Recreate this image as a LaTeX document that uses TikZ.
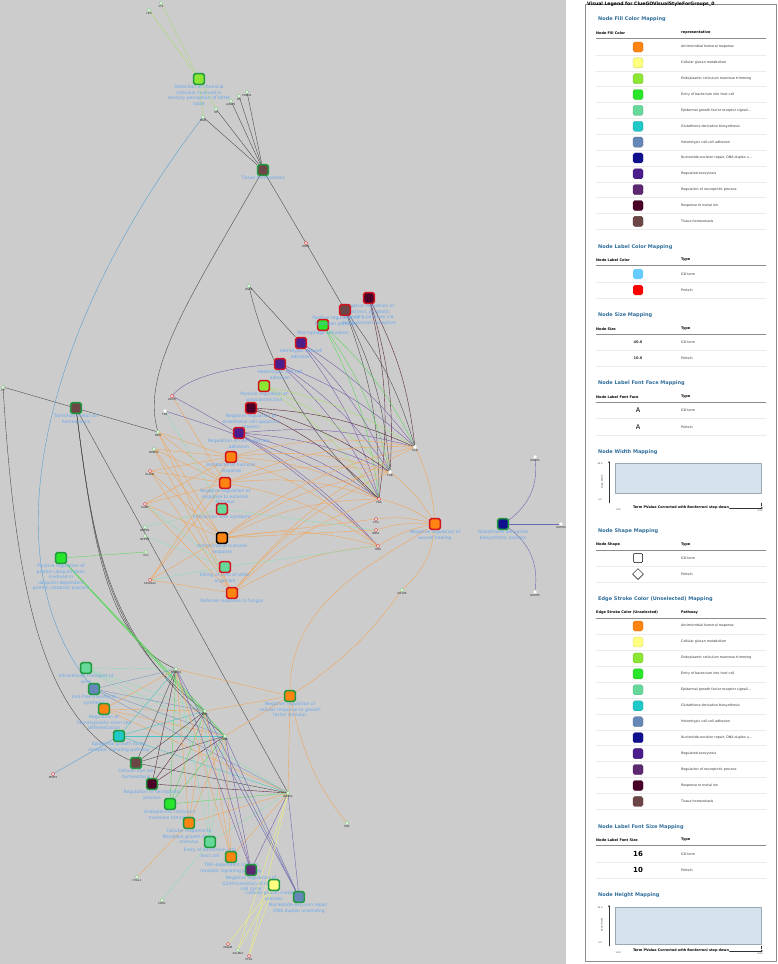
\documentclass[tikz,border=0pt]{standalone}
\usepackage{fontspec}
\setmainfont{DejaVu Sans}
\usetikzlibrary{arrows.meta,shapes.geometric,backgrounds}
% network
\definecolor{netbg}{HTML}{CCCCCC}
\definecolor{golabc}{HTML}{6AA8EC}
\definecolor{bdRed}{HTML}{D2141E}
\definecolor{bdGreen}{HTML}{1F9A3E}
\definecolor{pRed}{HTML}{D92020}
\definecolor{pGreen}{HTML}{6CC96C}
\definecolor{pWhite}{HTML}{F2F2F2}
\definecolor{fcOrange}{HTML}{FF8412}
\definecolor{fcYellow}{HTML}{FFFF80}
\definecolor{fcLime}{HTML}{8CE634}
\definecolor{fcGreen}{HTML}{2AE62A}
\definecolor{fcMint}{HTML}{66D99A}
\definecolor{fcCyan}{HTML}{20C8C8}
\definecolor{fcSteel}{HTML}{6688B8}
\definecolor{fcNavy}{HTML}{10108E}
\definecolor{fcPurple}{HTML}{4A1C8C}
\definecolor{fcPlum}{HTML}{5C2870}
\definecolor{fcMaroon}{HTML}{4A0026}
\definecolor{fcBrown}{HTML}{6C4646}
\definecolor{egOrange}{HTML}{F2A65A}
\definecolor{egGray}{HTML}{4D4D4D}
\definecolor{egPurple}{HTML}{7B5EA7}
\definecolor{egMaroon}{HTML}{5A2A3A}
\definecolor{egLime}{HTML}{A6E06A}
\definecolor{egGreen}{HTML}{5ED65E}
\definecolor{egMint}{HTML}{8FDDB5}
\definecolor{egBlue}{HTML}{5A9FD0}
\definecolor{egCyan}{HTML}{4CC4C4}
\definecolor{egSteel}{HTML}{7F98C0}
\definecolor{egNavy}{HTML}{6A6AB0}
\definecolor{egYellow}{HTML}{F2F27A}
% legend
\definecolor{legHead}{HTML}{2F6D9A}
\definecolor{legText}{HTML}{333333}
\definecolor{legRule}{HTML}{8C8C8C}
\definecolor{legRow}{HTML}{EBEBEB}
\definecolor{labBlue}{HTML}{66CCFF}
\definecolor{chartFill}{HTML}{D6E2EC}
\definecolor{chartEdge}{HTML}{9AA8B4}
\newcommand{\fsz}[2]{\fontsize{#1}{#2}\selectfont}

\begin{document}
\begin{tikzpicture}[x=1pt, y=-1pt, line cap=round, line join=round,
  goterm/.style={rectangle, rounded corners=1.6pt, minimum size=10.6pt,
                 inner sep=0pt, line width=1.5pt},
  golab/.style={text=golabc, font=\fsz{4.5}{5.4}, align=center, inner sep=0.3pt},
  prot/.style={diamond, draw=#1, fill=white, minimum size=3.4pt, inner sep=0pt,
               line width=0.45pt},
  plab/.style={font=\fsz{2.7}{3}, text=black!85, inner sep=0pt},
  ed/.style={line width=0.4pt},
  swatch/.style={rectangle, rounded corners=1.8pt, minimum size=10pt, inner sep=0pt},
  leghead/.style={font=\bfseries\fsz{5}{6}, text=legHead, anchor=west, inner sep=0pt},
  colhead/.style={font=\bfseries\fsz{3.5}{4}, text=black, anchor=west, inner sep=0pt},
  rowtxt/.style={font=\fsz{3.3}{4}, text=legText, anchor=west, inner sep=0pt},
  bigtxt/.style={font=\bfseries\fsz{3.6}{4}, text=legText, inner sep=0pt},
  axtxt/.style={font=\fsz{2.2}{2.5}, text=legText, inner sep=0pt}]

\useasboundingbox (0,0) rectangle (778,964);

% ================================================ GO terms
\foreach \n/\x/\y/\fc/\bc/\lab in {
  detect/199/79/fcLime/bdGreen/{Detection of chemical\\stimulus involved in\\sensory perception of bitter\\taste},
  tissue/263/170/fcBrown/bdGreen/{Tissue homeostasis},
  extap/369/298/fcMaroon/bdRed/{Negative regulation of\\extrinsic apoptotic\\signaling pathway via\\death domain receptors},
  macro/323/325/fcGreen/bdRed/{Macrophage activation},
  homot/301/343/fcPurple/bdRed/{Homotypic cell-cell\\adhesion},
  hetero/280/364/fcPurple/bdRed/{Heterotypic cell-cell\\adhesion},
  vaso/264/386/fcLime/bdRed/{Positive regulation of\\vasoconstriction},
  endoap/251/408/fcMaroon/bdRed/{Negative regulation of\\endothelial cell apoptotic\\process},
  substr/239/433/fcPurple/bdRed/{Regulation of cell-substrate\\adhesion},
  antibac/231/457/fcOrange/bdRed/{Antibacterial humoral\\response},
  extstim/225/483/fcOrange/bdRed/{Negative regulation of\\response to external\\stimulus},
  symb/222/509/fcMint/bdRed/{Interaction with symbiont},
  antimic/222/538/fcOrange/black/{Antimicrobial humoral\\response},
  kill/225/567/fcMint/bdRed/{Killing of cells of other\\organism},
  fungus/232/593/fcOrange/bdRed/{Defense response to fungus},
  wound/435/524/fcOrange/bdRed/{Negative regulation of\\wound healing},
  gluta/503/524/fcNavy/bdGreen/{Glutathione derivative\\biosynthetic process},
  transit/76/408/fcBrown/bdGreen/{Transition metal ion\\homeostasis},
  ubiq/61/558/fcGreen/bdGreen/{Positive regulation of\\protein ubiquitination\\involved in\\ubiquitin-dependent\\protein catabolic process},
  growthf/290/696/fcOrange/bdGreen/{Negative regulation of\\cellular response to growth\\factor stimulus},
  virus/86/668/fcMint/bdGreen/{Intracellular transport of\\virus},
  transf/94/689/fcSteel/bdGreen/{Iron-free transferrin\\synthesis},
  hemat/104/709/fcOrange/bdGreen/{Regulation of\\hematopoietic stem cell\\differentiation},
  egfr/119/736/fcCyan/bdGreen/{Epidermal growth factor\\receptor signaling pathway},
  ironh/136/763/fcBrown/bdGreen/{Cellular iron ion\\homeostasis},
  necro/152/784/fcMaroon/bdGreen/{Regulation of necroptotic\\process},
  ermann/170/804/fcGreen/bdGreen/{Endoplasmic reticulum\\mannose trimming},
  fibro/189/823/fcOrange/bdGreen/{Cellular response to\\fibroblast growth factor\\stimulus},
  entry/210/842/fcMint/bdGreen/{Entry of bacterium into\\host cell},
  trif/231/857/fcOrange/bdGreen/{TRIF-dependent toll-like\\receptor signaling pathway},
  gtwom/251/870/fcPlum/bdGreen/{Negative regulation of\\G2/M transition of mitotic\\cell cycle},
  glucan/274/885/fcYellow/bdGreen/{Cellular glucan metabolic\\process},
  nucex/299/897/fcSteel/bdGreen/{Nucleotide-excision repair,\\DNA duplex unwinding}}
  \node[goterm, fill=\fc, draw=\bc, label={[golab]below:\lab}] (\n) at (\x,\y) {};
% this one sits under the apoptosis label, nudged left
\node[goterm, fill=fcBrown, draw=bdRed,
      label={[golab, xshift=-9pt]below:{Positive regulation of\\hydrogen peroxide}}]
  (hperox) at (345,310) {};

% ================================================ proteins
\foreach \n/\x/\y/\pc/\lab in {
  chi/161/3/pGreen/CHI, lpo/149/10/pGreen/LPO, prdx/247/92/pGreen/PRDX1,
  ltf/239/96/pGreen/LTF, azgp/231/101/pGreen/AZGP1, hp/216/109/pGreen/HP,
  pigr/203/117/pGreen/PIGR, rbp/306/243/pRed/RBP4, dsc/249/286/pGreen/DSC3,
  cp/3/387/pGreen/CP, apoh/172/396/pRed/APOH, fn/165/411/pWhite/FN1,
  btm/158/432/pGreen/B2M, dmbt/154/449/pGreen/DMBT1, elane/150/471/pRed/ELANE,
  camp/145/504/pRed/CAMP, bpifb2/145/527/pGreen/BPIFB2, bpifb1/145/536/pGreen/BPIFB1,
  clu/146/552/pGreen/CLU, s100/150/580/pRed/S100A12,
  fgg/415/447/pWhite/FGG, fgb/390/472/pWhite/FGB, fga/379/499/pRed/FGA,
  plg/376/519/pRed/PLG, rns/376/530/pRed/RNS1, hrg/378/546/pRed/HRG,
  cd109/402/590/pGreen/CD109, gstm1/535/457/pWhite/GSTM1,
  gstm4/561/524/pWhite/GSTM4, gstm5/535/592/pWhite/GSTM5,
  rps/176/669/pGreen/RPS27A, ubc/205/711/pGreen/UBC, ubb/225/736/pGreen/UBB,
  uba/288/793/pGreen/UBA52, mmp/53/774/pRed/MMP9, sox/347/823/pGreen/SOX,
  hyal/137/877/pGreen/HYAL1, cdh/162/900/pGreen/CDH1, mgam/228/944/pRed/MGAM,
  calm/238/950/pGreen/CALML5, pygl/249/956/pRed/PYGL}
  \node[prot=\pc, label={[plab]below:\lab}] (\n) at (\x,\y) {};

% ================================================ edges (under the nodes)
\begin{pgfonlayer}{background}
  \fill[netbg] (0,0) rectangle (566,964);

  % bitter taste / tissue homeostasis
  \draw[ed, draw=egLime] (lpo) -- (detect);
  \draw[ed, draw=egLime] (chi) -- (detect);
  \draw[ed, draw=egLime] (detect) -- (pigr);
  \draw[ed, draw=egLime] (detect) -- (hp);
  \foreach \p in {pigr,hp,azgp,ltf,prdx}
    \draw[ed, draw=egGray] (\p) -- (tissue);
  \draw[ed, draw=egGray] (tissue) -- (rbp);
  \draw[ed, draw=egGray] (rbp) -- (hperox);
  \draw[ed, draw=egGray] (tissue) .. controls (195,290) and (140,370) .. (btm);
  \draw[ed, draw=egBlue] (pigr) .. controls (40,330) and (-10,560) .. (transf);

  % metal ions
  \draw[ed, draw=egGray] (cp) -- (btm);
  \draw[ed, draw=egGray] (cp) .. controls (15,580) and (40,720) .. (ironh);
  \foreach \p in {rps,ubc,ubb}
    \draw[ed, draw=egGray] (transit) .. controls (95,560) and (110,640) .. (\p);
  \draw[ed, draw=egGray] (transit) -- (uba);

  % upper fan to the fibrinogens
  \draw[ed, draw=egGray] (dsc) -- (homot);
  \draw[ed, draw=egGray] (dsc) .. controls (270,380) and (330,460) .. (fga);
  \foreach \s/\ec in {extap/egMaroon, hperox/egGray, macro/egGreen, homot/egPurple,
                      hetero/egPurple, vaso/egLime, endoap/egMaroon, substr/egPurple}
    \foreach \p in {fgg,fgb,fga}
      \draw[ed, draw=\ec] (\s) to[bend left=10] (\p);
  \draw[ed, draw=egPurple] (hetero) .. controls (220,368) and (185,380) .. (apoh);
  \draw[ed, draw=egPurple] (apoh) to[bend left=8] (hrg);
  \draw[ed, draw=egPurple] (fn) to[bend left=5] (fga);
  \draw[ed, draw=egPurple] (substr) to[bend left=8] (hrg);

  % antimicrobial block
  \foreach \s in {antibac,extstim,antimic,fungus}{
    \foreach \p in {btm,dmbt,elane,camp,s100}
      \draw[ed, draw=egOrange] (\s) -- (\p);
    \foreach \p in {fgg,fgb,fga,hrg}
      \draw[ed, draw=egOrange] (\s) to[bend left=12] (\p);
  }
  \draw[ed, draw=egOrange] (antimic) -- (plg);
  \draw[ed, draw=egOrange] (antimic) -- (rns);
  \draw[ed, draw=egOrange] (apoh) -- (extstim);
  \foreach \s/\p in {symb/fn, symb/bpifb2, symb/rns, kill/bpifb1, kill/camp, kill/hrg, kill/s100}
    \draw[ed, draw=egMint] (\s) -- (\p);
  \foreach \p in {fgg,fgb,fga,plg,rns,hrg}
    \draw[ed, draw=egOrange] (wound) to[bend right=10] (\p);
  \draw[ed, draw=egOrange] (wound) to[bend left=20] (cd109);

  % growth factor term
  \draw[ed, draw=egOrange] (growthf) to[bend right=10] (cd109);
  \draw[ed, draw=egOrange] (growthf) .. controls (290,600) and (380,560) .. (wound);
  \foreach \p in {rps,ubc,ubb,uba}
    \draw[ed, draw=egOrange] (growthf) -- (\p);
  \draw[ed, draw=egOrange] (growthf) .. controls (305,760) and (320,790) .. (sox);

  % ubiquitin block
  \draw[ed, draw=egGreen] (clu) -- (ubiq);
  \draw[ed, draw=egGreen, line width=0.7pt] (ubiq) -- (ubc);
  \draw[ed, draw=egGreen, line width=0.7pt] (ubiq) -- (ubb);
  \foreach \s/\ec in {virus/egMint, transf/egSteel, hemat/egOrange, egfr/egCyan,
                      ironh/egGray, necro/egMaroon, ermann/egGreen, fibro/egOrange,
                      entry/egMint, trif/egOrange, gtwom/egPurple, nucex/egNavy}
    \foreach \p in {rps,ubc,ubb,uba}
      \draw[ed, draw=\ec] (\s) -- (\p);
  \draw[ed, draw=egBlue] (mmp) -- (egfr);
  \draw[ed, draw=egOrange] (hyal) -- (fibro);
  \draw[ed, draw=egMint] (cdh) -- (entry);
  \foreach \p in {mgam,calm,pygl}
    \draw[ed, draw=egYellow] (\p) -- (glucan);
  \draw[ed, draw=egYellow] (calm) -- (uba);
  \draw[ed, draw=egYellow] (pygl) -- (uba);

  % glutathione
  \draw[ed, draw=egNavy] (gluta) to[bend right=30] (gstm1);
  \draw[ed, draw=egNavy] (gluta) -- (gstm4);
  \draw[ed, draw=egNavy] (gluta) to[bend left=30] (gstm5);
\end{pgfonlayer}

% ================================================ legend
\draw[legRule, line width=0.5pt] (585,4) rectangle (776,961);
\node[font=\bfseries\fsz{4.6}{5}, anchor=west, inner sep=0pt] (legtitle) at (587,3.8)
  {Visual Legend for ClueGOVisualStyleForGroups\_0};

% fill colour
\node[leghead] (hfill) at (598,19) {Node Fill Color Mapping};
\node[colhead] (cfill) at (596,33) {Node Fill Color};
\node[colhead] (cfillr) at (681,33) {representative};
\draw[legRule, line width=0.5pt] (596,38) -- (766,38);
\foreach \fc/\lab [count=\i from 0] in {fcOrange/{Antimicrobial humoral response},
    fcYellow/{Cellular glucan metabolism}, fcLime/{Endoplasmic reticulum mannose trimming},
    fcGreen/{Entry of bacterium into host cell},
    fcMint/{Epidermal growth factor receptor signali\ldots},
    fcCyan/{Glutathione derivative biosynthesis}, fcSteel/{Heterotypic cell-cell adhesion},
    fcNavy/{Nucleotide-excision repair, DNA duplex u\ldots}, fcPurple/{Regulated exocytosis},
    fcPlum/{Regulation of necroptotic process}, fcMaroon/{Response to metal ion},
    fcBrown/{Tissue homeostasis}}{
  \pgfmathsetmacro{\yy}{47+15.85*\i}
  \node[swatch, fill=\fc, draw=\fc!80!black, line width=0.3pt] (fsw\i) at (638,\yy) {};
  \node[rowtxt] (ftx\i) at (681,\yy) {\lab};
  \draw[legRow, line width=0.4pt] (596,\yy+7.9) -- (766,\yy+7.9);
}

% label colour
\node[leghead] (hlcol) at (598,247) {Node Label Color Mapping};
\node[colhead] (clcol) at (596,260) {Node Label Color};
\node[colhead] (clcolt) at (681,260) {Type};
\draw[legRule, line width=0.5pt] (596,265) -- (766,265);
\node[swatch, fill=labBlue] (lsw1) at (638,274) {};
\node[rowtxt] (ltx1) at (681,274) {GO term};
\draw[legRow, line width=0.4pt] (596,282) -- (766,282);
\node[swatch, fill=red] (lsw2) at (638,290) {};
\node[rowtxt] (ltx2) at (681,290) {Protein};
\draw[legRow, line width=0.4pt] (596,298) -- (766,298);

% size
\node[leghead] (hsize) at (598,315) {Node Size Mapping};
\node[colhead] (csize) at (596,329) {Node Size};
\node[colhead] (csizet) at (681,329) {Type};
\draw[legRule, line width=0.5pt] (596,334) -- (766,334);
\node[bigtxt] (sv1) at (638,342) {40.0};
\node[rowtxt] (st1) at (681,342) {GO term};
\draw[legRow, line width=0.4pt] (596,350) -- (766,350);
\node[bigtxt] (sv2) at (638,358) {10.0};
\node[rowtxt] (st2) at (681,358) {Protein};
\draw[legRow, line width=0.4pt] (596,366) -- (766,366);

% font face
\node[leghead] (hface) at (598,383) {Node Label Font Face Mapping};
\node[colhead] (cface) at (596,397) {Node Label Font Face};
\node[colhead] (cfacet) at (681,397) {Type};
\draw[legRule, line width=0.5pt] (596,402) -- (766,402);
\node[font=\fsz{6.5}{7}, inner sep=0pt] (fa1) at (638,410) {A};
\node[rowtxt] (ft1) at (681,410) {GO term};
\draw[legRow, line width=0.4pt] (596,418.5) -- (766,418.5);
\node[font=\fsz{6.5}{7}, inner sep=0pt] (fa2) at (638,427) {A};
\node[rowtxt] (ft2) at (681,427) {Protein};
\draw[legRow, line width=0.4pt] (596,435) -- (766,435);

% width chart
\node[leghead] (hwidth) at (598,452) {Node Width Mapping};
\fill[chartFill, draw=chartEdge, line width=0.4pt] (615,463) rectangle (761,493);
\draw[legText, line width=0.4pt, -{Stealth[length=2pt,width=2pt]}] (609,503) -- (609,461);
\node[axtxt] (wy1) at (600,464) {50.0};
\node[axtxt] (wy0) at (600,500) {5.0};
\node[axtxt, rotate=90] (wyl) at (602,482) {Node Width};
\node[axtxt] (wx0) at (618,510) {1.00};
\node[axtxt] (wx1) at (760,511) {0.00};
\node[font=\bfseries\fsz{3.4}{4}, inner sep=0.3pt] (wxl) at (681,508)
  {Term PValue Corrected with Bonferroni step down};
\draw[legText, line width=0.4pt, -{Stealth[length=2.4pt,width=2.2pt]}] (wxl.east) -- (763,508);
\draw[legText, line width=0.4pt] (761,503) -- (761,506);

% shape
\node[leghead] (hshape) at (598,531) {Node Shape Mapping};
\node[colhead] (cshape) at (596,545) {Node Shape};
\node[colhead] (cshapet) at (681,545) {Type};
\draw[legRule, line width=0.5pt] (596,550) -- (766,550);
\node[rectangle, rounded corners=1pt, draw=black, line width=0.5pt, minimum size=9pt,
      inner sep=0pt] (shsq) at (638,558) {};
\node[rowtxt] (sht1) at (681,558) {GO term};
\draw[legRow, line width=0.4pt] (596,566) -- (766,566);
\node[diamond, draw=black, line width=0.5pt, minimum size=11pt, inner sep=0pt] (shdi) at (638,574) {};
\node[rowtxt] (sht2) at (681,574) {Protein};
\draw[legRow, line width=0.4pt] (596,582) -- (766,582);

% edge colour
\node[leghead] (hedge) at (598,599) {Edge Stroke Color (Unselected) Mapping};
\node[colhead] (cedge) at (596,613) {Edge Stroke Color (Unselected)};
\node[colhead] (cedget) at (681,613) {Pathway};
\draw[legRule, line width=0.5pt] (596,618) -- (766,618);
\foreach \fc/\lab [count=\i from 0] in {fcOrange/{Antimicrobial humoral response},
    fcYellow/{Cellular glucan metabolism}, fcLime/{Endoplasmic reticulum mannose trimming},
    fcGreen/{Entry of bacterium into host cell},
    fcMint/{Epidermal growth factor receptor signali\ldots},
    fcCyan/{Glutathione derivative biosynthesis}, fcSteel/{Heterotypic cell-cell adhesion},
    fcNavy/{Nucleotide-excision repair, DNA duplex u\ldots}, fcPurple/{Regulated exocytosis},
    fcPlum/{Regulation of necroptotic process}, fcMaroon/{Response to metal ion},
    fcBrown/{Tissue homeostasis}}{
  \pgfmathsetmacro{\yy}{626+15.95*\i}
  \node[swatch, fill=\fc, draw=\fc!80!black, line width=0.3pt] (esw\i) at (638,\yy) {};
  \node[rowtxt] (etx\i) at (681,\yy) {\lab};
  \draw[legRow, line width=0.4pt] (596,\yy+8) -- (766,\yy+8);
}

% font size
\node[leghead] (hfsize) at (598,827) {Node Label Font Size Mapping};
\node[colhead] (cfsize) at (596,840) {Node Label Font Size};
\node[colhead] (cfsizet) at (681,840) {Type};
\draw[legRule, line width=0.5pt] (596,845) -- (766,845);
\node[font=\bfseries\fsz{7}{8}, inner sep=0pt] (fs1) at (638,854) {16};
\node[rowtxt] (fst1) at (681,854) {GO term};
\draw[legRow, line width=0.4pt] (596,862) -- (766,862);
\node[font=\bfseries\fsz{7}{8}, inner sep=0pt] (fs2) at (638,870) {10};
\node[rowtxt] (fst2) at (681,870) {Protein};
\draw[legRow, line width=0.4pt] (596,878) -- (766,878);

% height chart
\node[leghead] (hheight) at (598,895) {Node Height Mapping};
\fill[chartFill, draw=chartEdge, line width=0.4pt] (615,907) rectangle (761,944);
\draw[legText, line width=0.4pt, -{Stealth[length=2pt,width=2pt]}] (609,946) -- (609,905);
\node[axtxt] (hy1) at (600,908) {50.0};
\node[axtxt] (hy0) at (600,943) {5.0};
\node[axtxt, rotate=90] (hyl) at (602,925) {Node Height};
\node[axtxt] (hx0) at (618,953) {1.00};
\node[axtxt] (hx1) at (760,954) {0.00};
\node[font=\bfseries\fsz{3.4}{4}, inner sep=0.3pt] (hxl) at (681,951)
  {Term PValue Corrected with Bonferroni step down};
\draw[legText, line width=0.4pt, -{Stealth[length=2.4pt,width=2.2pt]}] (hxl.east) -- (763,951);
\draw[legText, line width=0.4pt] (761,946) -- (761,949);

\end{tikzpicture}
\end{document}
